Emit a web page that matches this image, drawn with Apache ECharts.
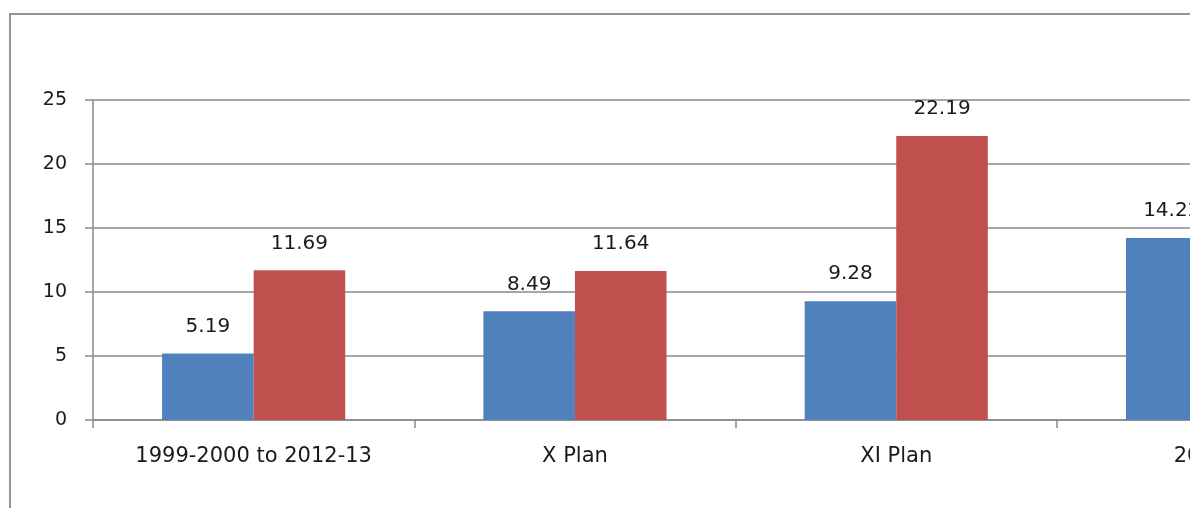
<!DOCTYPE html>
<html>
<head>
<meta charset="utf-8">
<script src="https://cdn.jsdelivr.net/npm/echarts@6/dist/echarts.min.js"></script>
<style>
  html, body { margin: 0; padding: 0; background: #ffffff; overflow: hidden; width: 1195px; height: 508px; }
  #frame { position: absolute; left: 0; top: 0; width: 1190px; height: 508px; overflow: hidden; }
  #chart { position: absolute; left: 0; top: 0; width: 1420px; height: 508px; }
  /* outer chart-area border: left and top edges */
  #border { position: absolute; left: 9px; top: 13px; width: 1500px; height: 600px;
            border-left: 2px solid #949494; border-top: 2px solid #949494; pointer-events: none; }
</style>
</head>
<body>
<div id="frame"><div id="chart"></div><div id="border"></div></div>
<script>
// Category labels along the x axis
const categories = ['1999-2000 to 2012-13', 'X Plan', 'XI Plan', '2012-13'];
// Blue series values per category
const seriesBlue = [5.19, 8.49, 9.28, 14.22];
// Red series values per category (last one not shown)
const seriesRed = [11.69, 11.64, 22.19, null];
// Value-axis ticks
const yTicks = [0, 5, 10, 15, 20, 25];

const FONT = 'DejaVu Sans';
const GRID_COLOR = '#8a8a8a';
const CAT_WIDTH = 321.3;

const chart = echarts.init(document.getElementById('chart'), null, { renderer: 'canvas', width: 1420, height: 508 });

const labelStyle = {
  show: true,
  position: 'top',
  distance: 17,
  fontFamily: FONT,
  fontSize: 20,
  color: '#1a1a1a',
  formatter: p => (p.value == null ? '' : String(p.value))
};

chart.setOption({
  animation: false,
  backgroundColor: '#ffffff',
  grid: {
    left: 93,
    top: 100,
    width: CAT_WIDTH * categories.length,
    height: 320,
    outerBoundsMode: 'none',
    containLabel: false
  },
  xAxis: {
    type: 'category',
    data: categories,
    axisLine: { show: true, lineStyle: { color: GRID_COLOR, width: 1.5 } },
    axisTick: { show: true, length: 8, alignWithLabel: false, lineStyle: { color: GRID_COLOR, width: 1.5 } },
    axisLabel: {
      interval: 0,
      margin: 26,
      fontFamily: FONT,
      fontSize: 21,
      color: '#1a1a1a'
    },
    splitLine: { show: false }
  },
  yAxis: {
    type: 'value',
    min: yTicks[0],
    max: yTicks[yTicks.length - 1],
    interval: yTicks[1] - yTicks[0],
    axisLine: { show: true, lineStyle: { color: GRID_COLOR, width: 1.5 } },
    axisTick: { show: true, length: 8, lineStyle: { color: GRID_COLOR, width: 1.5 } },
    axisLabel: {
      margin: 26,
      fontFamily: FONT,
      fontSize: 19,
      color: '#1a1a1a'
    },
    splitLine: { show: true, lineStyle: { color: GRID_COLOR, width: 1.5 } }
  },
  series: [
    {
      type: 'bar',
      data: seriesBlue,
      barGap: '0%',
      barCategoryGap: '43%',
      itemStyle: { color: '#4f81bd' },
      label: labelStyle
    },
    {
      type: 'bar',
      data: seriesRed,
      barGap: '0%',
      barCategoryGap: '43%',
      itemStyle: { color: '#c0504d' },
      label: labelStyle
    }
  ]
});
</script>
</body>
</html>
